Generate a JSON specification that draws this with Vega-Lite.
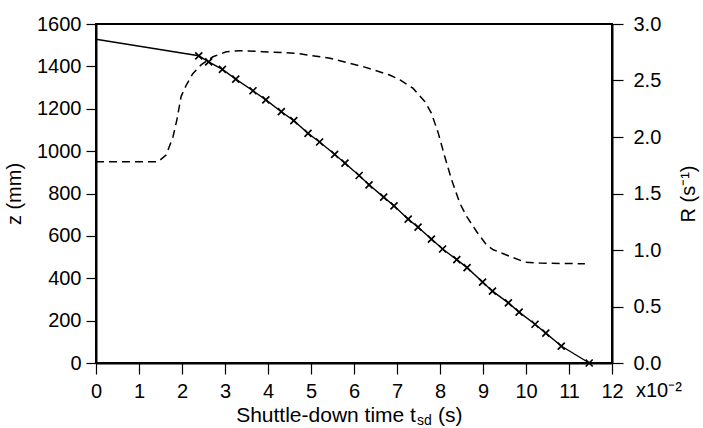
{
  "$schema": "https://vega.github.io/schema/vega-lite/v6.json",
  "width": 516,
  "height": 339,
  "autosize": "none",
  "padding": {"left": 96, "top": 24, "right": 91, "bottom": 65},
  "background": "white",
  "config": {
    "font": "Liberation Sans",
    "view": {"stroke": "black", "strokeWidth": 2},
    "axis": {
      "grid": false,
      "domainColor": "black",
      "domainWidth": 2,
      "tickColor": "black",
      "tickWidth": 1.2,
      "labelColor": "black",
      "labelFontSize": 20,
      "titleFontSize": 20,
      "titleFontWeight": "normal",
      "titleColor": "black",
      "labelOverlap": false,
      "labelFlush": false
    }
  },
  "datasets": {
    "zdata": [
      {"t": 0, "z": 1528},
      {"t": 2.39, "z": 1450},
      {"t": 2.62, "z": 1421},
      {"t": 2.94, "z": 1386},
      {"t": 3.25, "z": 1340},
      {"t": 3.65, "z": 1285},
      {"t": 3.95, "z": 1242},
      {"t": 4.31, "z": 1186},
      {"t": 4.6, "z": 1144},
      {"t": 4.93, "z": 1084},
      {"t": 5.2, "z": 1043},
      {"t": 5.55, "z": 985},
      {"t": 5.79, "z": 943},
      {"t": 6.12, "z": 885},
      {"t": 6.35, "z": 841},
      {"t": 6.69, "z": 783},
      {"t": 6.93, "z": 742},
      {"t": 7.26, "z": 679},
      {"t": 7.49, "z": 641},
      {"t": 7.8, "z": 585},
      {"t": 8.06, "z": 538},
      {"t": 8.39, "z": 488},
      {"t": 8.63, "z": 450},
      {"t": 8.99, "z": 382},
      {"t": 9.22, "z": 339},
      {"t": 9.59, "z": 284},
      {"t": 9.84, "z": 240},
      {"t": 10.21, "z": 183},
      {"t": 10.46, "z": 141},
      {"t": 10.82, "z": 80},
      {"t": 11.47, "z": 0}
    ],
    "rdata": [
      {"t": 0, "R": 1.78},
      {"t": 1.44, "R": 1.78},
      {"t": 1.63, "R": 1.84},
      {"t": 1.79, "R": 2.0},
      {"t": 1.88, "R": 2.15},
      {"t": 1.98, "R": 2.36},
      {"t": 2.1, "R": 2.46},
      {"t": 2.25, "R": 2.56},
      {"t": 2.45, "R": 2.64},
      {"t": 2.72, "R": 2.71},
      {"t": 3.03, "R": 2.755},
      {"t": 3.34, "R": 2.764},
      {"t": 3.88, "R": 2.755},
      {"t": 4.66, "R": 2.741},
      {"t": 5.44, "R": 2.697},
      {"t": 6.21, "R": 2.623},
      {"t": 6.83, "R": 2.549},
      {"t": 7.07, "R": 2.505},
      {"t": 7.37, "R": 2.432},
      {"t": 7.65, "R": 2.313},
      {"t": 7.8, "R": 2.211},
      {"t": 7.96, "R": 2.034},
      {"t": 8.11, "R": 1.827},
      {"t": 8.27, "R": 1.621},
      {"t": 8.46, "R": 1.415},
      {"t": 8.62, "R": 1.297},
      {"t": 8.85, "R": 1.164},
      {"t": 9.08, "R": 1.046},
      {"t": 9.24, "R": 1.002},
      {"t": 9.63, "R": 0.943},
      {"t": 9.97, "R": 0.893},
      {"t": 10.32, "R": 0.884},
      {"t": 11.37, "R": 0.878}
    ]
  },
  "layer": [
    {
      "layer": [
        {
          "data": {"name": "zdata"},
          "mark": {"type": "line", "color": "black", "strokeWidth": 1.4},
          "encoding": {
            "x": {
              "field": "t",
              "type": "quantitative",
              "scale": {"domain": [0, 12], "nice": false, "zero": false},
              "axis": {
                "values": [0, 1, 2, 3, 4, 5, 6, 7, 8, 9, 10, 11, 12],
                "format": "d",
                "tickSize": 11,
                "labelPadding": 7,
                "title": null
              }
            },
            "y": {
              "field": "z",
              "type": "quantitative",
              "scale": {"domain": [0, 1600], "nice": false},
              "axis": {
                "orient": "left",
                "values": [0, 200, 400, 600, 800, 1000, 1200, 1400, 1600],
                "format": "d",
                "tickSize": 10,
                "labelPadding": 5,
                "title": "z (mm)",
                "titlePadding": 12
              }
            }
          }
        },
        {
          "data": {"name": "zdata"},
          "transform": [{"filter": "datum.t > 0"}],
          "mark": {
            "type": "point",
            "shape": "M-1,-1L1,1M-1,1L1,-1",
            "stroke": "black",
            "strokeWidth": 1.7,
            "size": 49,
            "opacity": 1,
            "filled": false
          },
          "encoding": {
            "x": {"field": "t", "type": "quantitative"},
            "y": {"field": "z", "type": "quantitative"}
          }
        },
        {
          "data": {"values": [{}]},
          "mark": {"type": "text", "text": "x10⁻²", "align": "left", "baseline": "alphabetic", "dx": 24, "dy": 34, "fontSize": 20, "color": "black"},
          "encoding": {
            "x": {"datum": 12, "type": "quantitative"},
            "y": {"datum": 0, "type": "quantitative"}
          }
        },
        {
          "data": {"values": [{}]},
          "mark": {"type": "text", "text": "Shuttle-down time t", "align": "right", "baseline": "alphabetic", "dy": 59, "fontSize": 21, "color": "black"},
          "encoding": {
            "x": {"datum": 7.44, "type": "quantitative"},
            "y": {"datum": 0, "type": "quantitative"}
          }
        },
        {
          "data": {"values": [{}]},
          "mark": {"type": "text", "text": "sd", "align": "left", "baseline": "alphabetic", "dx": 1, "dy": 62, "fontSize": 14, "color": "black"},
          "encoding": {
            "x": {"datum": 7.44, "type": "quantitative"},
            "y": {"datum": 0, "type": "quantitative"}
          }
        },
        {
          "data": {"values": [{}]},
          "mark": {"type": "text", "text": "(s)", "align": "left", "baseline": "alphabetic", "dx": 22, "dy": 59, "fontSize": 21, "color": "black"},
          "encoding": {
            "x": {"datum": 7.44, "type": "quantitative"},
            "y": {"datum": 0, "type": "quantitative"}
          }
        }
      ]
    },
    {
      "data": {"name": "rdata"},
      "mark": {"type": "line", "color": "black", "strokeDash": [8, 5], "strokeWidth": 1.5},
      "encoding": {
        "x": {"field": "t", "type": "quantitative"},
        "y": {
          "field": "R",
          "type": "quantitative",
          "scale": {"domain": [0, 3], "nice": false},
          "axis": {
            "orient": "right",
            "values": [0, 0.5, 1, 1.5, 2, 2.5, 3],
            "format": ".1f",
            "tickSize": 11,
            "labelPadding": 10,
            "title": "R (s⁻¹)",
            "titleAngle": -90,
            "titleBaseline": "top",
            "titlePadding": 18
          }
        }
      }
    }
  ],
  "resolve": {"scale": {"y": "independent"}}
}
